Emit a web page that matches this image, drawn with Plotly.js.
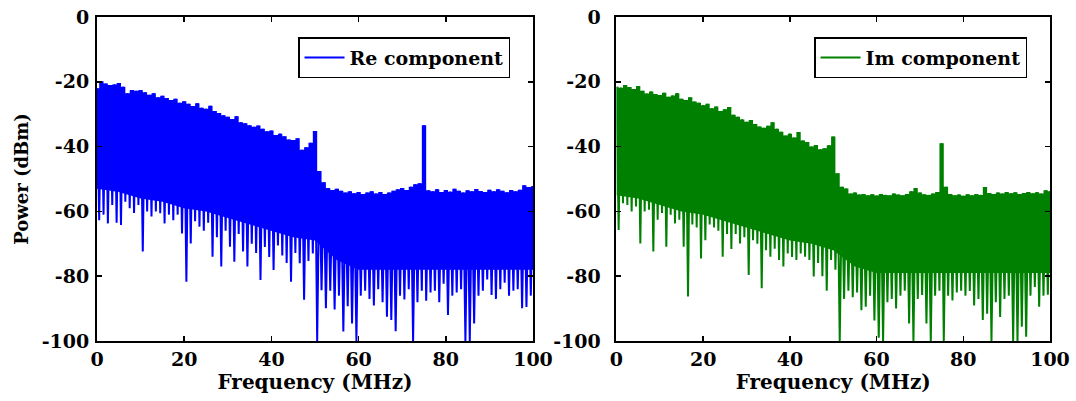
<!DOCTYPE html>
<html>
<head>
<meta charset="utf-8">
<script src="https://cdn.plot.ly/plotly-3.0.1.min.js"></script>
<style>
  html, body { margin: 0; padding: 0; background: #fff; }
  #chart { width: 1076px; height: 401px; }
</style>
</head>
<body>
<div id="chart"></div>
<script>
// Spectrum bins (MHz), 1 MHz apart
const freqMHz = [0,1,2,3,4,5,6,7,8,9,10,11,12,13,14,15,16,17,18,19,20,21,22,23,24,25,26,27,28,29,
  30,31,32,33,34,35,36,37,38,39,40,41,42,43,44,45,46,47,48,49,50,51,52,53,54,55,56,57,58,59,
  60,61,62,63,64,65,66,67,68,69,70,71,72,73,74,75,76,77,78,79,80,81,82,83,84,85,86,87,88,89,
  90,91,92,93,94,95,96,97,98,99,100];

// Re component: per-bin peak and trough power (dBm)
const reHi = [-22,-19.8,-20.5,-21,-20.8,-20.4,-21.5,-23.5,-22.5,-22.8,
  -22.5,-23.2,-24,-23.5,-24.8,-24.3,-25,-25.6,-25.2,-26.5,
  -26,-26.8,-27.5,-26.6,-28,-28.3,-27.4,-29,-29.6,-30.3,
  -30.8,-31.5,-30.6,-32.5,-32.8,-33.4,-33.9,-33.5,-34.5,-35.3,
  -35,-36.4,-36,-36.8,-37.8,-38,-37.4,-41,-40.2,-38.8,
  -35.2,-47.5,-51,-52.8,-53.4,-53,-53.6,-54.2,-53.8,-54.4,
  -54,-54.6,-54.2,-53.8,-54.5,-54,-54.6,-54.2,-53.6,-53.2,
  -52.8,-53.4,-52.4,-51.6,-51.3,-33.4,-53.5,-53.8,-53.2,-54,
  -53.4,-53.9,-53,-53.6,-54.2,-53.5,-53.8,-53.1,-53.7,-54,
  -53.3,-53.8,-53.2,-53.6,-54.1,-53.4,-53.8,-53.3,-51.9,-52.5,
  -52.2];
const reLo = [-62.7,-61,-63.7,-58,-63.5,-64.2,-57,-59,-60.5,-58,
  -72.4,-60,-61.6,-60,-60.6,-63.7,-61,-62.7,-61,-66.8,
  -81.7,-69.9,-63,-64.7,-66,-63.5,-74,-68,-77,-66,
  -70.9,-75.5,-67,-72.4,-77,-70,-72.8,-81.2,-71,-74.1,
  -78.1,-70.5,-73.6,-75.9,-81.7,-72.8,-76,-87.3,-75.3,-73,
  -100,-84.3,-89.9,-84.5,-90.3,-86,-97.1,-89.3,-94.6,-100,
  -86,-84.5,-87,-89,-84,-88,-92.5,-93.5,-97,-86,
  -87.2,-84,-100,-88,-84.5,-87.6,-85,-84.5,-88,-82.3,
  -92,-86,-85,-84,-100,-100,-94.6,-86,-84.5,-81,
  -85.8,-87,-84,-82,-86,-84.5,-84,-89.9,-89.5,-86,
  -95.6];

// Im component: per-bin peak and trough power (dBm)
const imHi = [-21.5,-21.8,-21,-21.6,-22.2,-21.3,-22.8,-23.6,-23,-23.8,
  -24.1,-23.4,-24.6,-24.2,-23.5,-25.2,-25.6,-24.8,-26.1,-26.5,
  -27.2,-26.8,-28.2,-27.6,-29,-28.5,-27.8,-30.2,-30.8,-31.6,
  -32.3,-31.8,-33,-33.8,-34.2,-33.6,-32.5,-34.5,-35.4,-36.6,
  -36,-37.2,-35.5,-38.1,-38.6,-40,-39.5,-40.8,-40.5,-39.6,
  -36.9,-48.2,-52.4,-52.9,-54.5,-54.2,-54.8,-54.6,-55,-54.7,
  -55.1,-54.6,-54.9,-55,-54.5,-54.8,-55,-54.6,-53.8,-52.8,
  -54.2,-54.7,-54.9,-54.5,-54,-39,-52.4,-54.6,-55,-54.8,
  -55.2,-54.7,-55,-54.6,-54.9,-52.5,-54.3,-54.6,-54.2,-54.5,
  -54,-54.4,-54.1,-54.6,-54.3,-54,-54.4,-54.1,-54.5,-53.5,
  -53.8];
const imLo = [-65.7,-57.5,-58,-60,-58.5,-69.9,-60,-59.5,-72.4,-62.6,
  -60.5,-70.9,-61,-63.7,-62.6,-70.9,-86.3,-64,-65,-74.5,
  -68.9,-64,-65,-66,-74,-67,-71.6,-67,-69.9,-68,
  -79.6,-68.9,-70,-83.7,-72,-74,-71.5,-75,-77,-73,
  -74.1,-75,-73,-74,-75,-80.1,-75.9,-80,-84.5,-75,
  -78,-100,-87,-84.5,-86.5,-85,-90.5,-89.4,-86,-93.7,
  -99,-100,-88,-87,-90,-86,-84.5,-94.6,-100,-87,
  -85.8,-94.6,-100,-86,-84.5,-100,-86,-87.5,-85,-84.5,
  -86,-84.6,-89,-87,-93.5,-91.6,-100,-88,-92.6,-87,
  -86,-100,-100,-95.6,-98.7,-86,-83.3,-89.4,-86,-85.7,
  -84.5];

// Lower edge of the densely packed part of each trace (dBm), every 5 MHz
const floorMHz = [0,5,10,15,20,25,30,35,40,45,50,55,60,65,70,75,80,85,90,95,100];
const reFloor = [-53,-54,-56,-57,-59,-60,-62,-64,-66,-68,-69,-75,-78,-78,-78,-78,-78,-78,-78,-78,-78];
const imFloor = [-55,-56,-58,-60,-61,-63,-65,-67,-69,-70,-72,-77,-79,-79,-79,-79,-79,-79,-79,-79,-79];

// Axis ticks
const xTickVals = [0,20,40,60,80,100];
const xTickText = ['0','20','40','60','80','100'];
const yTickVals = [-100,-80,-60,-40,-20,0];
const yTickText = ['-100','-80','-60','-40','-20','0'];

const seriesNames = ['Re component', 'Im component'];
const seriesColors = ['#0000ff', '#008000'];

// Solid band from the packed lower edge up to the per-bin peaks (stepped skyline)
function bandTraces(floorVals, hi, color, xa, ya) {
  return [
    { x: floorMHz, y: floorVals, xaxis: xa, yaxis: ya, mode: 'lines',
      line: { width: 0, color: color }, showlegend: false, hoverinfo: 'skip' },
    { x: freqMHz, y: hi, xaxis: xa, yaxis: ya, mode: 'lines', fill: 'tonexty',
      fillcolor: color, line: { width: 0, color: color, shape: 'hvh' },
      showlegend: false, hoverinfo: 'skip' }
  ];
}

// Peak/trough zig-zag that draws the spiky spectrum trace
function spectrumTrace(hi, lo, color, name, xa, ya, legendId) {
  const x = [], y = [];
  for (let i = 0; i < freqMHz.length; i++) {
    x.push(freqMHz[i], freqMHz[i] + 0.5);
    y.push(hi[i], lo[i]);
  }
  return { x: x, y: y, xaxis: xa, yaxis: ya, name: name, legend: legendId,
    mode: 'lines', line: { color: color, width: 2, simplify: false } };
}

const data = [].concat(
  bandTraces(reFloor, reHi, seriesColors[0], 'x', 'y'),
  [spectrumTrace(reHi, reLo, seriesColors[0], seriesNames[0], 'x', 'y', 'legend')],
  bandTraces(imFloor, imHi, seriesColors[1], 'x2', 'y2'),
  [spectrumTrace(imHi, imLo, seriesColors[1], seriesNames[1], 'x2', 'y2', 'legend2')]
);

const serif = 'DejaVu Serif, Liberation Serif, serif';
const tickFont = { family: serif, size: 19, color: '#000', weight: 'bold' };

const axisBase = {
  showline: true, linecolor: '#000', linewidth: 2, mirror: 'ticks',
  ticks: 'inside', ticklen: 5, tickwidth: 1.5, tickcolor: '#000',
  showgrid: false, zeroline: false, tickfont: tickFont, fixedrange: true
};

const xTitle = { text: 'Frequency (MHz)', font: { family: serif, size: 20, color: '#000', weight: 'bold' }, standoff: 6 };

const legendBase = {
  xanchor: 'right', yanchor: 'top', y: 0.938, itemwidth: 40,
  bgcolor: '#fff', bordercolor: '#000', borderwidth: 1.5,
  font: { family: serif, size: 19, color: '#000', weight: 'bold' }
};

const layout = {
  width: 1076, height: 401,
  margin: { l: 97, r: 26, t: 17, b: 60 },
  paper_bgcolor: '#fff', plot_bgcolor: '#fff',
  xaxis: Object.assign({}, axisBase, { domain: [0, 0.4575], range: [0, 100],
    tickmode: 'array', tickvals: xTickVals, ticktext: xTickText, title: xTitle, anchor: 'y' }),
  yaxis: Object.assign({}, axisBase, { range: [-100, 0], tickmode: 'array',
    tickvals: yTickVals, ticktext: yTickText, anchor: 'x', ticklabelstandoff: 2,
    title: { text: 'Power (dBm)', font: { family: serif, size: 18, color: '#000', weight: 'bold' }, standoff: 8 } }),
  xaxis2: Object.assign({}, axisBase, { domain: [0.5451, 1], range: [0, 100],
    tickmode: 'array', tickvals: xTickVals, ticktext: xTickText, title: xTitle, anchor: 'y2' }),
  yaxis2: Object.assign({}, axisBase, { range: [-100, 0], tickmode: 'array',
    tickvals: yTickVals, ticktext: yTickText, anchor: 'x2', ticklabelstandoff: 10 }),
  legend: Object.assign({}, legendBase, { x: 0.4334 }),
  legend2: Object.assign({}, legendBase, { x: 0.9759 })
};

Plotly.newPlot('chart', data, layout, { staticPlot: true, displayModeBar: false });
</script>
</body>
</html>
